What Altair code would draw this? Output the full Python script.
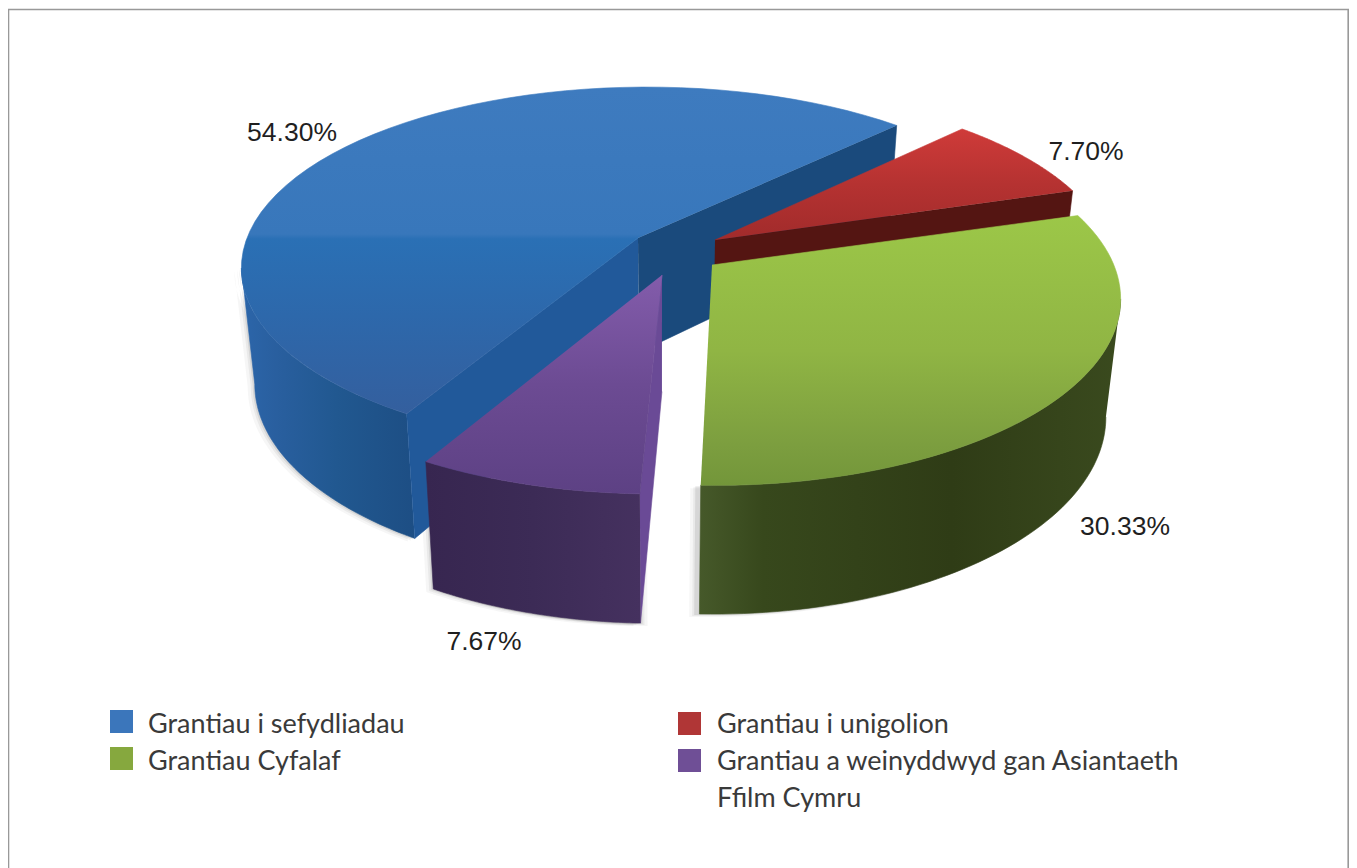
import math
import altair as alt
import pandas as pd

categories = ["Grantiau i sefydliadau", "Grantiau i unigolion", "Grantiau Cyfalaf",
              "Grantiau a weinyddwyd gan Asiantaeth"]
shares = [54.30, 7.70, 30.33, 7.67]
value_labels = ["54.30%", "7.70%", "30.33%", "7.67%"]
swatch_colors = ["#3b76bb", "#b03636", "#86a83e", "#6f4f96"]

W, H = 1341, 860
KP, RX, RY = 0.166, 400.0, 176.0   # perspective of the tilted disc
START = -44.8                      # rotation of the pie, degrees


def px(a, cx, cy, ky=1.0):
    t = math.radians(a)
    X, Y = math.cos(t), math.sin(t)
    s = 1 / (1 - KP * Y)
    return cx + s * RX * X, cy + s * RY * ky * Y


def arc(a0, a1, c, ky=1.0, n=60):
    return [px(a0 + (a1 - a0) * i / n, c[0], c[1], ky) for i in range(n + 1)]


def down(p):
    return 660 + 0.968 * (p[0] - 660), p[1] + 100.6 + 0.058 * p[1]


xs = alt.Scale(domain=[8, 8 + W], range=[0, W], nice=False, zero=False)
ys = alt.Scale(domain=[8, 8 + H], range=[0, H], nice=False, zero=False)
XE = alt.X("x:Q", scale=xs, axis=None)
YE = alt.Y("y:Q", scale=ys, axis=None)


def grad(stops, horizontal=False):
    return {
        "gradient": "linear", "x1": 0, "y1": 0,
        "x2": 1 if horizontal else 0, "y2": 0 if horizontal else 1,
        "stops": [{"offset": o, "color": c} for o, c in stops],
    }


def poly(points, fill, opacity=1.0, edge=0.6):
    df = pd.DataFrame(points, columns=["x", "y"])
    df["i"] = range(len(df))
    kw = dict(fill=fill, opacity=opacity, strokeWidth=edge, interpolate="linear", clip=False)
    kw["stroke"] = fill if edge else "transparent"
    return alt.Chart(df).mark_line(**kw).encode(x=XE, y=YE, order=alt.Order("i:Q"))


def side(a0, a1, c, ky=1.0):
    top = arc(a0, a1, c, ky)
    return top + [down(p) for p in reversed(top)]


# slice angles from the shares (clockwise from the back edge of blue)
a_red0 = START
a_red1 = a_red0 + shares[1] * 3.6
a_grn1 = a_red1 + shares[2] * 3.6
a_pur1 = a_grn1 + shares[3] * 3.6
a_blu1 = a_pur1 + shares[0] * 3.6   # equals START + 360

A_blue, C_blue = (638, 238), (647, 238)
A_red, C_red = (715, 240), (708, 240)
A_green, C_green = (712, 265), (715, 268)
A_pur, C_pur = (662, 275), (657.5, 283)
KY_GREEN = 1.03

# the drawn blue rim stops just short of its neighbours
b0, b1 = a_pur1 + 1.3, a_blu1 - 0.9

SIL = math.degrees(math.asin(KP))   # where the rim's silhouette meets the side

layers = []

# soft shadows
sh_blue = side(b0, 180 - SIL, C_blue)
sh_green = side(a_red1 + 40, a_grn1, C_green, KY_GREEN)
sh_pur = side(a_grn1, a_pur1, C_pur)
for off, op in [((-7, 3), 0.05), ((-4, 2), 0.08), ((-2, 1), 0.12)]:
    layers.append(poly([(x + off[0], y + off[1]) for x, y in sh_blue], "#555555", op, 0))
    layers.append(poly([(x + off[0], y + off[1]) for x, y in sh_green], "#555555", op, 0))
    layers.append(poly([(x + off[0], y + off[1]) for x, y in sh_pur], "#555555", op, 0))
    layers.append(poly([(x - off[0], y + off[1]) for x, y in sh_pur], "#555555", op, 0))

# blue
P1 = px(b1, *C_blue)
P2 = px(b0, *C_blue)
layers.append(poly(side(b0, 180 - SIL, C_blue),
                   grad([(0, "#2c66aa"), (0.2, "#295f9f"), (0.55, "#215890"), (1, "#1d4e84")], True)))
layers.append(poly([A_blue, P1, down(P1), down(A_blue)], "#1a4a7c"))
layers.append(poly([A_blue, P2, down(P2), down(A_blue)], "#21599a"))
layers.append(poly([A_blue] + arc(b0, b1, C_blue),
                   grad([(0, "#3e7bbf"), (0.45, "#3877bb"), (0.465, "#2a70b5"),
                         (0.7, "#2d68ab"), (1, "#345f9e")])))

# red
R2 = px(a_red1, *C_red)
layers.append(poly([A_red, R2, down(R2), down(A_red)], "#541512"))
layers.append(poly([A_red] + arc(a_red0, a_red1, C_red),
                   grad([(0, "#cf3b39"), (0.5, "#b53231"), (1, "#a12b2b")])))

# green
layers.append(poly(side(SIL, a_grn1 - 0.4, C_green, KY_GREEN),
                   grad([(0, "#46592a"), (0.15, "#37481c"), (0.6, "#2f3c16"), (1, "#3a4a1e")], True)))
layers.append(poly([A_green] + arc(a_red1 - 0.6, a_grn1 - 0.4, C_green, KY_GREEN),
                   grad([(0, "#9cc748"), (0.5, "#90b544"), (0.85, "#7c9e3f"), (1, "#73963a")])))

# purple
U1 = px(a_grn1, *C_pur)
layers.append(poly([A_pur, U1, down(U1), down(A_pur)], "#6a4a96"))
layers.append(poly(side(a_grn1, a_pur1, C_pur),
                   grad([(0, "#372650"), (0.5, "#3c2b56"), (1, "#45315f")], True)))
layers.append(poly([A_pur] + arc(a_grn1, a_pur1, C_pur),
                   grad([(0, "#835cab"), (0.5, "#6c4b93"), (1, "#5d4184")])))

# frame
frame_x = [8.5, 8.5, 1348.2, 1348.2]
frame_y = [868, 9.5, 9.5, 868]
fdf = pd.DataFrame({"x": frame_x, "y": frame_y, "i": range(4)})
layers.append(alt.Chart(fdf).mark_line(stroke="#999999", strokeWidth=1.6, clip=False)
              .encode(x=XE, y=YE, order=alt.Order("i:Q")))

# value labels
ldf = pd.DataFrame({"t": value_labels, "x": [292, 1086, 1125, 484], "y": [133, 152, 527, 642]})
layers.append(alt.Chart(ldf).mark_text(font="Liberation Sans", fontSize=26.5, color="#1f1f1f",
                                       align="center", baseline="middle")
              .encode(x=XE, y=YE, text="t:N"))

# legend
legend_text = ["Grantiau i sefydliadau", "Grantiau i unigolion", "Grantiau Cyfalaf",
               "Grantiau a weinyddwyd gan Asiantaeth", "Ffilm Cymru"]
tdf = pd.DataFrame({"t": legend_text, "x": [148, 717, 148, 717, 717], "y": [733, 733, 770, 770, 807]})
layers.append(alt.Chart(tdf).mark_text(font="Lato", fontSize=27, color="#3a3a3a",
                                       align="left", baseline="alphabetic")
              .encode(x=XE, y=YE, text="t:N"))
sdf = pd.DataFrame({"c": swatch_colors, "x": [110, 678, 110, 678], "x2": [133, 701, 133, 701],
                    "y": [710, 712, 747, 749], "y2": [733, 735, 770, 772]})
layers.append(alt.Chart(sdf).mark_rect().encode(
    x=XE, x2="x2:Q", y=YE, y2="y2:Q", color=alt.Color("c:N", scale=None)))

chart = alt.layer(*layers).properties(
    width=W, height=H, padding=0, autosize=alt.AutoSizeParams(type="none"),
    background="white").configure_view(stroke=None)
chart.save("out.html", embed_options={"renderer": "svg", "actions": False})
